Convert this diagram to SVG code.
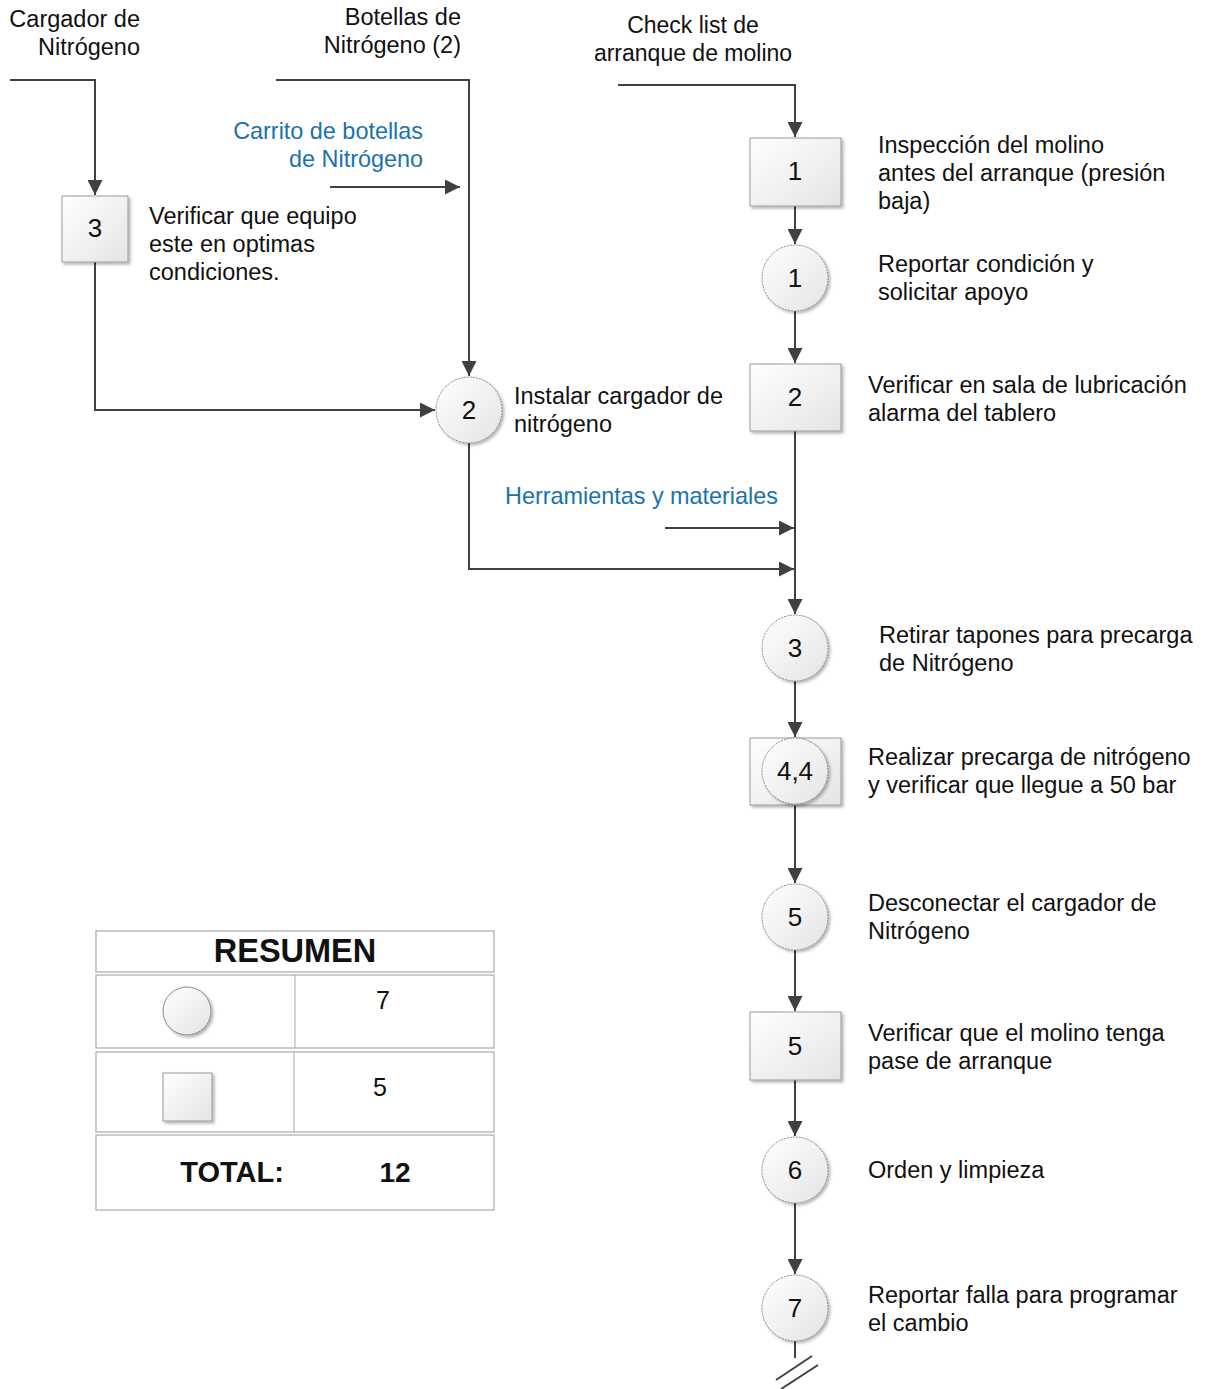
<svg xmlns="http://www.w3.org/2000/svg" width="1206" height="1389" viewBox="0 0 1206 1389">
<defs>
<linearGradient id="g" x1="0" y1="0" x2="1" y2="1"><stop offset="0" stop-color="#ffffff"/><stop offset="1" stop-color="#e4e4e4"/></linearGradient>
<filter id="sh" x="-20%" y="-20%" width="150%" height="150%"><feDropShadow dx="2" dy="2" stdDeviation="1.5" flood-color="#000" flood-opacity="0.3"/></filter>
<marker id="a" viewBox="0 0 14 14" refX="14" refY="7" markerWidth="15" markerHeight="15" markerUnits="userSpaceOnUse" orient="auto"><path d="M0,0 L14,7 L0,14 z" fill="#404040"/></marker>
</defs>
<style>
text{font-family:"Liberation Sans",Arial,sans-serif;fill:#111}
.t{font-size:23.5px}
.h{font-size:23px}
.n{font-size:26px;text-anchor:middle}
.b{fill:#1a72b0;font-size:23.4px}
.box{fill:url(#g);stroke:#9a9a9a;stroke-width:1;filter:url(#sh)}
.cir{fill:url(#g);stroke:#8a8a8a;stroke-width:1;stroke-dasharray:2 1;filter:url(#sh)}
.c{fill:none;stroke:#404040;stroke-width:2}
.tb{fill:#fff;stroke:#aaa;stroke-width:1.2}
.bold{font-weight:bold}
</style>

<g id="connectors">
<path class="c" d="M618,85 H795 V137" marker-end="url(#a)"/>
<path class="c" d="M795,206 V244" marker-end="url(#a)"/>
<path class="c" d="M795,311 V363" marker-end="url(#a)"/>
<path class="c" d="M795,431 V614" marker-end="url(#a)"/>
<path class="c" d="M665,528 H794" marker-end="url(#a)"/>
<path class="c" d="M469,443 V569 H794" marker-end="url(#a)"/>
<path class="c" d="M795,681 V737" marker-end="url(#a)"/>
<path class="c" d="M795,805 V883" marker-end="url(#a)"/>
<path class="c" d="M795,950 V1011" marker-end="url(#a)"/>
<path class="c" d="M795,1080 V1136" marker-end="url(#a)"/>
<path class="c" d="M795,1203 V1274" marker-end="url(#a)"/>
<path class="c" d="M795,1341 V1358"/>
<path class="c" d="M776,1380 L812,1356 M781,1389 L818,1365" stroke-width="1.5"/>
<path class="c" d="M10,80 H95 V195" marker-end="url(#a)"/>
<path class="c" d="M95,262 V410 H435" marker-end="url(#a)"/>
<path class="c" d="M276,80 H469 V376" marker-end="url(#a)"/>
<path class="c" d="M330,187 H460" marker-end="url(#a)"/>
</g>

<g id="labels">
<text class="t" x="140" y="27" text-anchor="end">Cargador de</text>
<text class="t" x="140" y="55" text-anchor="end">Nitrógeno</text>
<text class="t" x="461" y="25" text-anchor="end">Botellas de</text>
<text class="t" x="461" y="53" text-anchor="end">Nitrógeno (2)</text>
<text class="h" x="693" y="33" text-anchor="middle">Check list de</text>
<text class="h" x="693" y="61" text-anchor="middle">arranque de molino</text>
<text class="b" x="423" y="139" text-anchor="end">Carrito de botellas</text>
<text class="b" x="423" y="167" text-anchor="end">de Nitrógeno</text>
<text class="b" x="505" y="504">Herramientas y materiales</text>
</g>

<g id="n-box3"><rect class="box" x="62" y="196" width="66" height="66"/><text class="n" x="95" y="237">3</text>
<text class="t" x="149" y="224">Verificar que equipo</text><text class="t" x="149" y="252">este en optimas</text><text class="t" x="149" y="280">condiciones.</text></g>

<g id="n-circ2"><circle class="cir" cx="469" cy="410" r="33"/><text class="n" x="469" y="419">2</text>
<text class="t" x="514" y="404">Instalar cargador de</text><text class="t" x="514" y="432">nitrógeno</text></g>

<g id="n-box1"><rect class="box" x="750" y="138" width="91" height="68"/><text class="n" x="795" y="180">1</text>
<text class="t" x="878" y="153">Inspección del molino</text><text class="t" x="878" y="181">antes del arranque (presión</text><text class="t" x="878" y="209">baja)</text></g>

<g id="n-circ1"><circle class="cir" cx="795" cy="278" r="33"/><text class="n" x="795" y="287">1</text>
<text class="t" x="878" y="272">Reportar condición y</text><text class="t" x="878" y="300">solicitar apoyo</text></g>

<g id="n-box2"><rect class="box" x="750" y="364" width="91" height="67"/><text class="n" x="795" y="406">2</text>
<text class="t" x="868" y="393">Verificar en sala de lubricación</text><text class="t" x="868" y="421">alarma del tablero</text></g>

<g id="n-circ3"><circle class="cir" cx="795" cy="648" r="33"/><text class="n" x="795" y="657">3</text>
<text class="t" x="879" y="643">Retirar tapones para precarga</text><text class="t" x="879" y="671">de Nitrógeno</text></g>

<g id="n-comb44"><rect class="box" x="750" y="738" width="91" height="67"/><circle class="cir" cx="795" cy="771" r="33"/><text class="n" x="795" y="780">4,4</text>
<text class="t" x="868" y="765">Realizar precarga de nitrógeno</text><text class="t" x="868" y="793">y verificar que llegue a 50 bar</text></g>

<g id="n-circ5"><circle class="cir" cx="795" cy="917" r="33"/><text class="n" x="795" y="926">5</text>
<text class="t" x="868" y="911">Desconectar el cargador de</text><text class="t" x="868" y="939">Nitrógeno</text></g>

<g id="n-box5"><rect class="box" x="750" y="1012" width="91" height="68"/><text class="n" x="795" y="1055">5</text>
<text class="t" x="868" y="1041">Verificar que el molino tenga</text><text class="t" x="868" y="1069">pase de arranque</text></g>

<g id="n-circ6"><circle class="cir" cx="795" cy="1170" r="33"/><text class="n" x="795" y="1179">6</text>
<text class="t" x="868" y="1178">Orden y limpieza</text></g>

<g id="n-circ7"><circle class="cir" cx="795" cy="1308" r="33"/><text class="n" x="795" y="1317">7</text>
<text class="t" x="868" y="1303">Reportar falla para programar</text><text class="t" x="868" y="1331">el cambio</text></g>

<g id="resumen">
<rect class="tb" x="96" y="931" width="398" height="41"/>
<text x="295" y="962" text-anchor="middle" class="bold" font-size="32.5">RESUMEN</text>
<rect class="tb" x="96" y="975" width="398" height="73"/>
<line x1="295" y1="975" x2="295" y2="1048" stroke="#aaa"/>
<circle class="cir" cx="187" cy="1011" r="24" style="stroke-dasharray:none"/>
<text x="383" y="1009" text-anchor="middle" font-size="25">7</text>
<rect class="tb" x="96" y="1052" width="398" height="80"/>
<line x1="294" y1="1052" x2="294" y2="1132" stroke="#aaa"/>
<rect class="box" x="163" y="1073" width="49" height="48"/>
<text x="380" y="1096" text-anchor="middle" font-size="25">5</text>
<rect class="tb" x="96" y="1135" width="398" height="75"/>
<text x="232" y="1182" text-anchor="middle" class="bold" font-size="29">TOTAL:</text>
<text x="395" y="1182" text-anchor="middle" class="bold" font-size="28">12</text>
</g>
</svg>
